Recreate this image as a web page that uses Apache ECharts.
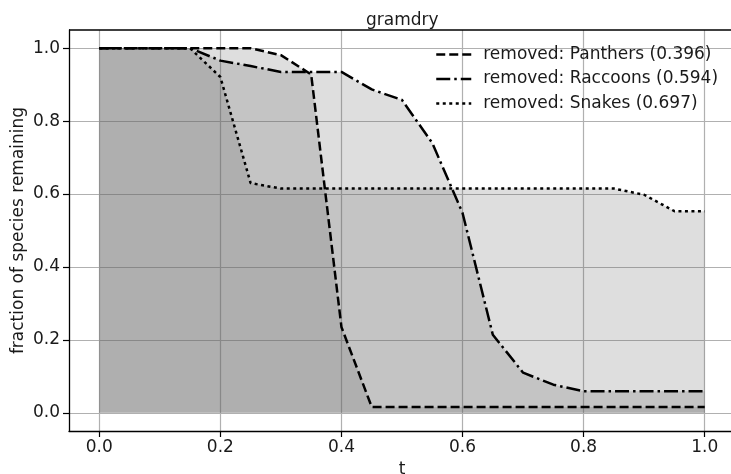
<!DOCTYPE html>
<html>
<head>
<meta charset="utf-8">
<script src="https://cdn.jsdelivr.net/npm/echarts@6/dist/echarts.min.js"></script>
<style>html,body{margin:0;padding:0;background:#fff;}#c{width:731px;height:474px;}</style>
</head>
<body>
<div id="c"></div>
<script>
var tValues = [0, 0.05, 0.1, 0.15, 0.2, 0.25, 0.3, 0.35, 0.4, 0.45, 0.5, 0.55, 0.6, 0.65, 0.7, 0.75, 0.8, 0.85, 0.9, 0.95, 1.0];
var panthers = [1, 1, 1, 1, 1, 1, 0.981, 0.928, 0.235, 0.016, 0.016, 0.016, 0.016, 0.016, 0.016, 0.016, 0.016, 0.016, 0.016, 0.016, 0.016];
var raccoons = [1, 1, 1, 1, 0.966, 0.951, 0.935, 0.935, 0.935, 0.887, 0.858, 0.740, 0.548, 0.214, 0.110, 0.077, 0.059, 0.059, 0.059, 0.059, 0.059];
var snakes   = [1, 1, 1, 1, 0.921, 0.630, 0.615, 0.615, 0.615, 0.615, 0.615, 0.615, 0.615, 0.615, 0.615, 0.615, 0.615, 0.615, 0.598, 0.553, 0.553];
var seriesNames = ['removed: Panthers (0.396)', 'removed: Raccoons (0.594)', 'removed: Snakes (0.697)'];
var tickValues = [0, 0.2, 0.4, 0.6, 0.8, 1.0];
var titleText = 'gramdry';
var xName = 't';
var yName = 'fraction of species remaining';

function pairs(arr) { return tValues.map(function (t, i) { return [t, arr[i]]; }); }

var FONT = 'DejaVu Sans';
var TXT = '#1a1a1a';
var dashes = [[9, 4], [14, 4, 2.5, 4], [3, 3.5]];
var values = [panthers, raccoons, snakes];

var series = [];
values.forEach(function (v, i) {
  series.push({
    name: 'area' + i, type: 'line', data: pairs(v), symbol: 'none', silent: true,
    lineStyle: { width: 0 }, z: 1,
    areaStyle: { color: 'rgb(98,98,98)', opacity: 0.21, origin: 0 }
  });
});
values.forEach(function (v, i) {
  series.push({
    name: seriesNames[i], type: 'line', data: pairs(v), symbol: 'none', z: 5,
    lineStyle: { color: '#000', width: 2.5, type: dashes[i], cap: 'butt' },
    itemStyle: { color: '#000' }
  });
});

var chart = echarts.init(document.getElementById('c'), null, { renderer: 'canvas' });
chart.setOption({
  animation: false,
  backgroundColor: '#fff',
  title: {
    text: titleText, left: 361, top: 7,
    textStyle: { fontFamily: FONT, fontSize: 17, fontWeight: 'normal', color: TXT }
  },
  legend: {
    data: seriesNames, orient: 'vertical', left: 430, top: 41,
    itemWidth: 35, itemHeight: 17, itemGap: 7.5,
    lineStyle: { width: 2.5 },
    itemStyle: { color: 'rgba(0,0,0,0)', borderColor: 'rgba(0,0,0,0)', borderWidth: 0, opacity: 0 },
    textStyle: { fontFamily: FONT, fontSize: 17, color: TXT, padding: [0, 0, 0, 7] }
  },
  grid: { left: 69, right: -4, top: 30, bottom: 43, containLabel: false, outerBoundsMode: 'none' },
  xAxis: {
    type: 'value', min: -0.05, max: 1.05,
    name: xName, nameLocation: 'middle', nameGap: 30, nameMoveOverlap: false,
    nameTextStyle: { fontFamily: FONT, fontSize: 17, color: TXT },
    axisLine: { onZero: false, lineStyle: { color: '#000', width: 1.3 } },
    axisTick: { show: true, length: 6, customValues: tickValues, lineStyle: { color: '#000', width: 1.2 } },
    axisLabel: { customValues: tickValues, margin: 8, fontFamily: FONT, fontSize: 17, color: TXT,
      formatter: function (v) { return v.toFixed(1); } },
    splitLine: { show: true, lineStyle: { color: '#b0b0b0', width: 1.2 } }
  },
  yAxis: {
    type: 'value', min: -0.05, max: 1.05,
    name: yName, nameLocation: 'middle', nameGap: 42, nameMoveOverlap: false,
    nameTextStyle: { fontFamily: FONT, fontSize: 17, color: TXT },
    axisLine: { show: true, onZero: false, lineStyle: { color: '#000', width: 1.3 } },
    axisTick: { show: true, length: 6, customValues: tickValues, lineStyle: { color: '#000', width: 1.2 } },
    axisLabel: { customValues: tickValues, margin: 9, fontFamily: FONT, fontSize: 17, color: TXT,
      formatter: function (v) { return v.toFixed(1); } },
    splitLine: { show: true, lineStyle: { color: '#b0b0b0', width: 1.2 } }
  },
  graphic: [{
    type: 'line', shape: { x1: 69, y1: 30, x2: 731, y2: 30 },
    style: { stroke: '#000', lineWidth: 1.3 }, z: 10
  }],
  series: series
});
</script>
</body>
</html>
